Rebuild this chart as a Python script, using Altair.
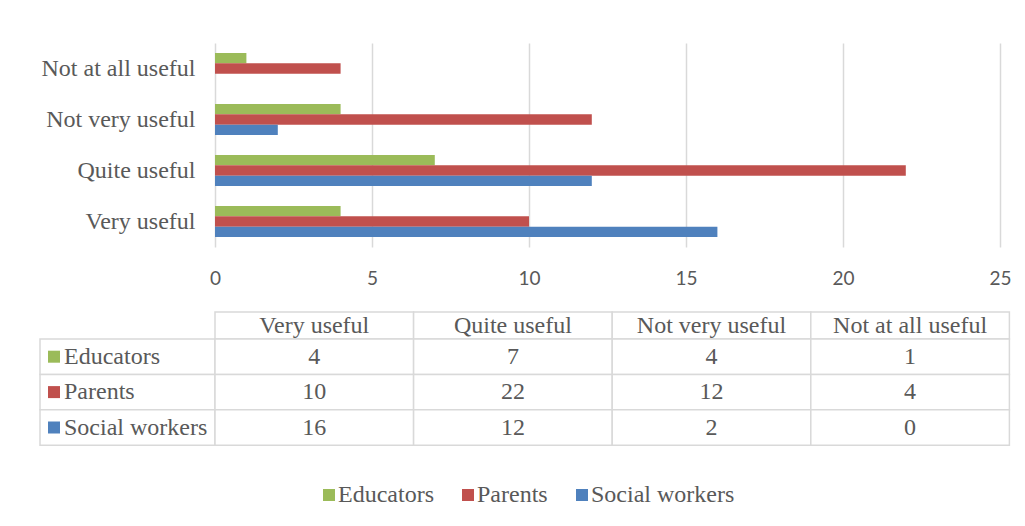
import altair as alt
import pandas as pd

# ---- data ----
categories = ["Very useful", "Quite useful", "Not very useful", "Not at all useful"]
groups = ["Educators", "Parents", "Social workers"]
educators = [4, 7, 4, 1]
parents = [10, 22, 12, 4]
social_workers = [16, 12, 2, 0]
x_ticks = [0, 5, 10, 15, 20, 25]
colors = ["#9bbb59", "#c0504d", "#4f81bd"]

series = [educators, parents, social_workers]
rows = []
for g, vals in zip(groups, series):
    for c, v in zip(categories, vals):
        rows.append({"category": c, "group": g, "value": v})
df = pd.DataFrame(rows)

# ---- style / layout ----
TEXT = "#595959"
GRID = "#d9d9d9"
SERIF = "Liberation Serif"
SANS = "Lato"
FS = 24

LABEL_W = 175 / 198.6   # width of the row-label column, in data-column units
HEADER_H = 27 / 35.4    # height of the header row, in data-row units
COL_PX = 198.6
ROW_PX = 35.4

color = alt.Color(
    "group:N",
    scale=alt.Scale(domain=groups, range=colors),
    legend=alt.Legend(
        title=None, orient="none", direction="horizontal",
        legendX=102, legendY=440,
    ),
)

bars = alt.Chart(df).mark_bar().encode(
    x=alt.X(
        "value:Q",
        scale=alt.Scale(domain=[0, 25], nice=False),
        axis=alt.Axis(
            values=x_ticks, title=None, grid=True, gridColor=GRID, gridWidth=1.5,
            domain=False, ticks=False, labelFont=SANS, labelFontSize=19,
            labelColor=TEXT, labelPadding=22, labelFlush=False,
        ),
    ),
    y=alt.Y(
        "category:N",
        sort=list(reversed(categories)),
        scale=alt.Scale(paddingInner=20 / 51, paddingOuter=10 / 51),
        axis=alt.Axis(
            title=None, domain=False, ticks=False, labelFont=SERIF,
            labelFontSize=FS, labelColor=TEXT, labelPadding=20, minExtent=175,
        ),
    ),
    yOffset=alt.YOffset("group:N", sort=groups),
    color=color,
).properties(width=785, height=204)

# ---- data table ----
cells = []
for i, c in enumerate(categories):
    cells.append({"x0": i, "x1": i + 1, "y0": 0, "y1": HEADER_H,
                  "text": c, "kind": "header", "group": None})
for j, g in enumerate(groups):
    y0 = HEADER_H + j
    cells.append({"x0": -LABEL_W, "x1": 0, "y0": y0, "y1": y0 + 1,
                  "text": g, "kind": "label", "group": g})
    for i, v in enumerate(series[j]):
        cells.append({"x0": i, "x1": i + 1, "y0": y0, "y1": y0 + 1,
                      "text": str(v), "kind": "value", "group": g})
cdf = pd.DataFrame(cells)
cdf["xc"] = (cdf["x0"] + cdf["x1"]) / 2
cdf["yc"] = (cdf["y0"] + cdf["y1"]) / 2
cdf["xsq"] = cdf["x0"] + 14 / COL_PX
cdf["xlab"] = cdf["x0"] + 24 / COL_PX

tw = 4 * COL_PX
th = HEADER_H * ROW_PX + 3 * ROW_PX
xs = alt.Scale(domain=[0, 4], nice=False, zero=False)
ys = alt.Scale(domain=[0, HEADER_H + 3], nice=False, zero=False, reverse=True)

base = alt.Chart(cdf)
grid_cells = base.mark_rect(fill="white", stroke=GRID, strokeWidth=1.5).encode(
    x=alt.X("x0:Q", scale=xs, axis=None),
    x2="x1:Q",
    y=alt.Y("y0:Q", scale=ys, axis=None),
    y2="y1:Q",
)
center_text = base.transform_filter(alt.datum.kind != "label").mark_text(
    font=SERIF, fontSize=FS, color=TEXT, baseline="middle", align="center"
).encode(
    x=alt.X("xc:Q", scale=xs, axis=None),
    y=alt.Y("yc:Q", scale=ys, axis=None),
    text="text:N",
)
label_text = base.transform_filter(alt.datum.kind == "label").mark_text(
    font=SERIF, fontSize=FS, color=TEXT, baseline="middle", align="left"
).encode(
    x=alt.X("xlab:Q", scale=xs, axis=None),
    y=alt.Y("yc:Q", scale=ys, axis=None),
    text="text:N",
)
squares = base.transform_filter(alt.datum.kind == "label").mark_point(
    shape="square", filled=True, size=144, opacity=1
).encode(
    x=alt.X("xsq:Q", scale=xs, axis=None),
    y=alt.Y("yc:Q", scale=ys, axis=None),
    color=color,
)
table = alt.layer(grid_cells, center_text, label_text, squares).properties(
    width=tw, height=th
)

chart = alt.vconcat(bars, table, spacing=23).properties(
    padding={"left": 31, "top": 35, "right": 5, "bottom": 5},
    background="white",
).configure_view(strokeWidth=0).configure_legend(
    symbolType="square", symbolSize=144, symbolStrokeWidth=0, symbolOpacity=1,
    labelFont=SERIF, labelFontSize=FS, labelColor=TEXT,
    labelOffset=alt.ExprRef("-3"), columnPadding=22, labelLimit=300, padding=0,
)

chart.save("out.html", embed_options={"renderer": "svg", "actions": False})
